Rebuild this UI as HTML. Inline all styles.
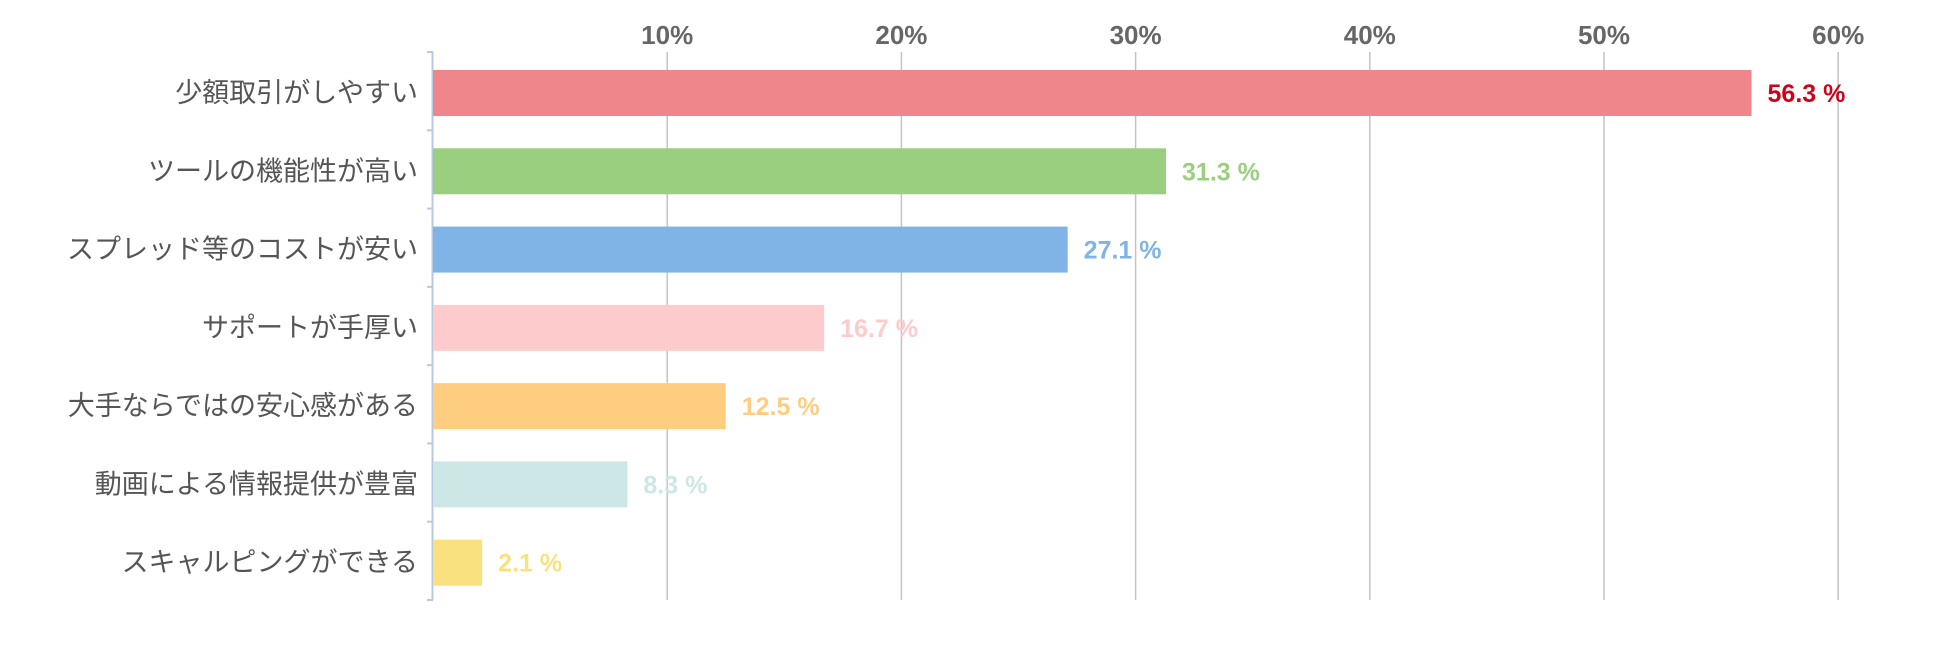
<!DOCTYPE html>
<html><head><meta charset="utf-8"><style>
html,body{margin:0;padding:0;background:#fff;width:1950px;height:667px;overflow:hidden}
text{font-family:"Liberation Sans","Noto Sans CJK JP",sans-serif}
</style></head><body>
<svg id="chart" width="1950" height="667" viewBox="0 0 1950 667" xmlns="http://www.w3.org/2000/svg"></svg>
<script>
const categories=["少額取引がしやすい","ツールの機能性が高い","スプレッド等のコストが安い","サポートが手厚い","大手ならではの安心感がある","動画による情報提供が豊富","スキャルピングができる"];
const values=[56.3,31.3,27.1,16.7,12.5,8.3,2.1];
const barColors=["#ee868b","#9acf7f","#80b3e6","#fdcbcb","#ffcd80","#cde6e6","#f9e17f"];
const labelColors=["#d0021b","#9acf7f","#80b3e6","#fdcbcb","#ffcd80","#cde6e6","#f9e17f"];
const ticks=[10,20,30,40,50,60];
const tickLabels=["10%","20%","30%","40%","50%","60%"];

const svg=document.getElementById('chart');
const NS="http://www.w3.org/2000/svg";
const x0=433, pxPer=23.42, yTop=52, yBot=600;
const band=(yBot-yTop)/categories.length;
const xs=v=>x0+v*pxPer;
const yb=i=>yTop+i*band;
function mk(tag,attrs,txt){const e=document.createElementNS(NS,tag);for(const k in attrs)e.setAttribute(k,attrs[k]);if(txt!==undefined)e.textContent=txt;svg.appendChild(e);return e;}

ticks.forEach((t,i)=>{
  const g=mk('line',{x1:xs(t),x2:xs(t),y1:yTop,y2:yBot,stroke:'#c4c4c4','stroke-width':1.5});
  
  
  const l=mk('text',{x:xs(t),y:44,'text-anchor':'middle','font-size':26,'font-weight':'bold',fill:'#666'},tickLabels[i]);
  
  
});

const ax=mk('line',{x1:x0-0.5,x2:x0-0.5,y1:yTop,y2:yBot,stroke:'#b7c9e0','stroke-width':2});


for(let i=0;i<=categories.length;i++){
  const t=mk('line',{x1:x0-6,x2:x0,y1:yb(i),y2:yb(i),stroke:'#b7c9e0','stroke-width':2});
  
  
}

categories.forEach((c,i)=>{
  const top=yb(i)+18, h=46;
  const r=mk('rect',{x:x0,y:top,width:xs(values[i])-x0,height:h,fill:barColors[i]});
  
  
  const cl=mk('text',{x:418,y:top+h/2+9,'text-anchor':'end','font-size':27,fill:'#555'},c);
  
  
  const vl=mk('text',{x:xs(values[i])+16,y:top+h/2+9,'font-size':25,'font-weight':'bold',fill:labelColors[i]},values[i].toFixed(1)+' %');
  
  
});
</script>
</body></html>
